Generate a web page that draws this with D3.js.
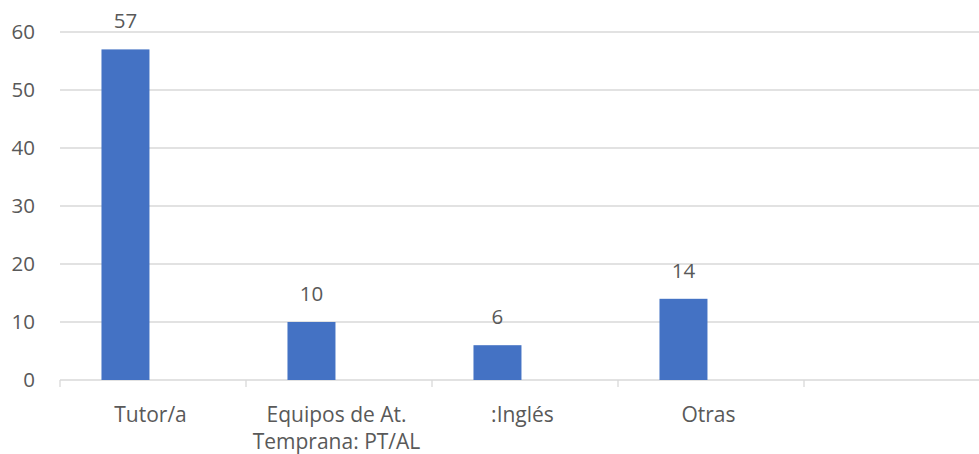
<!DOCTYPE html>
<html>
<head>
<meta charset="utf-8">
<script src="https://cdn.jsdelivr.net/npm/d3@7/dist/d3.min.js"></script>
<style>
  html, body { margin: 0; padding: 0; background: #ffffff; }
  svg { display: block; }
  text { font-family: "Open Sans", "Noto Sans", sans-serif; fill: #595959; }
</style>
</head>
<body>
<svg id="chart" width="979" height="454"></svg>
<script>
const categories = ["Tutor/a", "Equipos de At.\nTemprana: PT/AL", ":Inglés", "Otras", ""];
const values = [57, 10, 6, 14, null];
const yTicks = [0, 10, 20, 30, 40, 50, 60];

const W = 979, H = 454;
const svg = d3.select("#chart");
const plotLeft = 60, plotRight = 990, plotTop = 32, plotBottom = 380;
const FS = 20.5;

const x = d3.scaleBand().domain(categories).range([plotLeft, plotRight]).paddingInner(0).paddingOuter(0);
const y = d3.scaleLinear().domain([0, 60]).range([plotBottom, plotTop]);

// gridlines
svg.append("g").selectAll("line").data(yTicks.filter(t => t > 0)).join("line")
  .attr("x1", plotLeft).attr("x2", W)
  .attr("y1", d => y(d)).attr("y2", d => y(d))
  .attr("stroke", "#d9d9d9").attr("stroke-width", 1.3);

// y axis labels
const yAxis = d3.axisLeft(y).tickValues(yTicks).tickSize(0).tickPadding(0);
const gy = svg.append("g").attr("transform", `translate(35,0)`).call(yAxis);
gy.select(".domain").remove();
gy.selectAll("text").attr("font-size", FS).attr("fill", "#595959")
  .style("font-family", '"Open Sans", "Noto Sans", sans-serif');

// x axis baseline + ticks
const xAxisG = svg.append("g");
xAxisG.append("line").attr("x1", plotLeft).attr("x2", W)
  .attr("y1", plotBottom).attr("y2", plotBottom)
  .attr("stroke", "#d9d9d9").attr("stroke-width", 1.3);
xAxisG.selectAll("line.tick").data(categories).join("line").attr("class", "tick")
  .attr("x1", d => x(d)).attr("x2", d => x(d))
  .attr("y1", plotBottom).attr("y2", plotBottom + 7)
  .attr("stroke", "#d9d9d9").attr("stroke-width", 1.3);

// bars (first series of a two-slot cluster)
const bw = x.bandwidth();
const barOff = bw * 0.223, barW = bw * 0.258;
const data = categories.map((c, i) => ({c, v: values[i]})).filter(d => d.v != null);

svg.append("g").selectAll("rect").data(data).join("rect")
  .attr("x", d => x(d.c) + barOff)
  .attr("width", barW)
  .attr("y", d => y(d.v))
  .attr("height", d => y(0) - y(d.v))
  .attr("fill", "#4472c4");

// value labels
svg.append("g").selectAll("text").data(data).join("text")
  .attr("x", d => x(d.c) + barOff + barW / 2)
  .attr("y", d => y(d.v) - 21)
  .attr("text-anchor", "middle")
  .attr("font-size", FS)
  .text(d => d.v);

// category labels
const cl = svg.append("g").selectAll("text").data(categories).join("text")
  .attr("x", d => x(d) + bw / 2 - 2.5)
  .attr("y", 422)
  .attr("text-anchor", "middle")
  .attr("font-size", FS + 0.5);
cl.each(function(d) {
  const lines = d.split("\n");
  const t = d3.select(this);
  lines.forEach((ln, i) => {
    t.append("tspan").attr("x", x(d) + bw / 2 - 2.5).attr("dy", i === 0 ? 0 : 27).text(ln);
  });
});
</script>
</body>
</html>
